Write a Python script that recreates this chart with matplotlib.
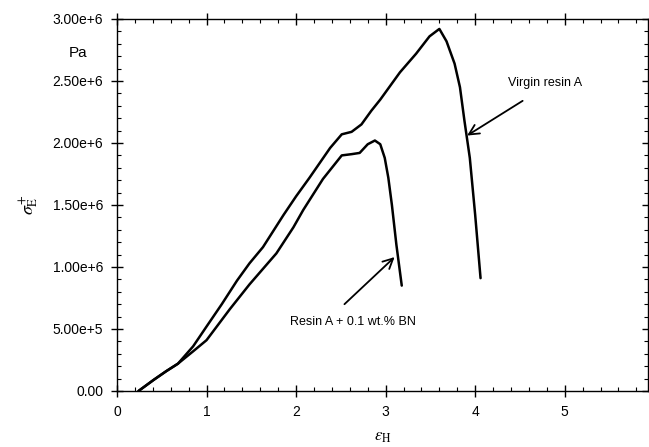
import matplotlib
matplotlib.use("Agg")
import matplotlib.pyplot as plt
from matplotlib.ticker import FixedLocator, FixedFormatter, MultipleLocator

plt.rcParams['font.family'] = ['Liberation Sans', 'DejaVu Sans']
plt.rcParams['mathtext.fontset'] = 'stix'

# Virgin resin A
virgin_x = [0.24, 0.41, 0.55, 0.68, 0.85, 1.00, 1.17, 1.34, 1.48, 1.63, 1.86, 2.00,
            2.15, 2.38, 2.51, 2.62, 2.73, 2.84, 2.94, 3.05, 3.16, 3.34, 3.49, 3.60,
            3.68, 3.77, 3.83, 3.88, 3.94, 4.00, 4.06]
virgin_y = [0.00, 0.09, 0.16, 0.22, 0.36, 0.52, 0.70, 0.89, 1.03, 1.16, 1.42, 1.57,
            1.72, 1.96, 2.07, 2.09, 2.15, 2.26, 2.35, 2.46, 2.57, 2.72, 2.86, 2.92,
            2.82, 2.64, 2.45, 2.18, 1.88, 1.42, 0.91]

# Resin A + 0.1 wt.% BN
bn_x = [0.24, 0.41, 0.55, 0.68, 0.85, 1.00, 1.26, 1.48, 1.78, 1.97, 2.08, 2.30,
        2.51, 2.62, 2.71, 2.80, 2.88, 2.94, 2.99, 3.03, 3.07, 3.12, 3.18]
bn_y = [0.00, 0.09, 0.16, 0.22, 0.32, 0.41, 0.66, 0.86, 1.11, 1.32, 1.46, 1.71,
        1.90, 1.91, 1.92, 1.99, 2.02, 1.99, 1.88, 1.72, 1.50, 1.18, 0.85]

scale = 1e6
y_ticks = [0, 5e5, 1e6, 1.5e6, 2e6, 2.5e6, 3e6]
y_tick_labels = ["0.00", "5.00e+5", "1.00e+6", "1.50e+6", "2.00e+6", "2.50e+6", "3.00e+6"]
x_ticks = [0, 1, 2, 3, 4, 5]
x_tick_labels = ["0", "1", "2", "3", "4", "5"]

fig = plt.figure(figsize=(6.49, 4.47), dpi=100)
ax = fig.add_axes([117/649, 56/447, (648-117)/649, (391-19)/447])

ax.plot(virgin_x, [v*scale for v in virgin_y], color='black', lw=1.8,
        solid_joinstyle='round', solid_capstyle='round')
ax.plot(bn_x, [v*scale for v in bn_y], color='black', lw=1.8,
        solid_joinstyle='round', solid_capstyle='round')

ax.set_xlim(0, 5.93)
ax.set_ylim(0, 3e6)

ax.xaxis.set_major_locator(FixedLocator(x_ticks))
ax.xaxis.set_major_formatter(FixedFormatter(x_tick_labels))
ax.xaxis.set_minor_locator(MultipleLocator(0.2))
ax.yaxis.set_major_locator(FixedLocator(y_ticks))
ax.yaxis.set_major_formatter(FixedFormatter(y_tick_labels))
ax.yaxis.set_minor_locator(MultipleLocator(1e5))

ax.tick_params(which='major', direction='inout', length=8, width=1.0,
               top=True, right=True, labelsize=10, pad=6, colors='black')
ax.tick_params(which='minor', direction='in', length=3, width=0.8,
               top=True, right=True)
for s in ax.spines.values():
    s.set_linewidth(1.0)

# "6" tick label at the clipped right edge (partly cut, as in the reference)
ax.text(6, -0.065, "6", transform=ax.get_xaxis_transform(), ha='center', va='top',
        fontsize=10, clip_on=False)

ax.set_xlabel(r'$\varepsilon_{\rm H}$', fontsize=12, labelpad=8)
ax.set_ylabel(r'$\sigma_{\rm E}^{+}$', fontsize=13, labelpad=8)

fig.text(78/649, 1 - 53/447, "Pa", fontsize=11, ha='center', va='center')

ax.annotate("", xy=(3.91, 2.06e6), xytext=(4.53, 2.34e6),
            arrowprops=dict(arrowstyle='->', color='black', lw=1.3,
                            mutation_scale=18, shrinkA=0, shrinkB=0))
ax.text(4.37, 2.485e6, "Virgin resin A", fontsize=9, ha='left', va='center')
ax.annotate("", xy=(3.10, 1.08e6), xytext=(2.54, 0.70e6),
            arrowprops=dict(arrowstyle='->', color='black', lw=1.3,
                            mutation_scale=18, shrinkA=0, shrinkB=0))
ax.text(1.93, 0.555e6, "Resin A + 0.1 wt.% BN", fontsize=9, ha='left', va='center')

fig.savefig("out.png", dpi=100)
